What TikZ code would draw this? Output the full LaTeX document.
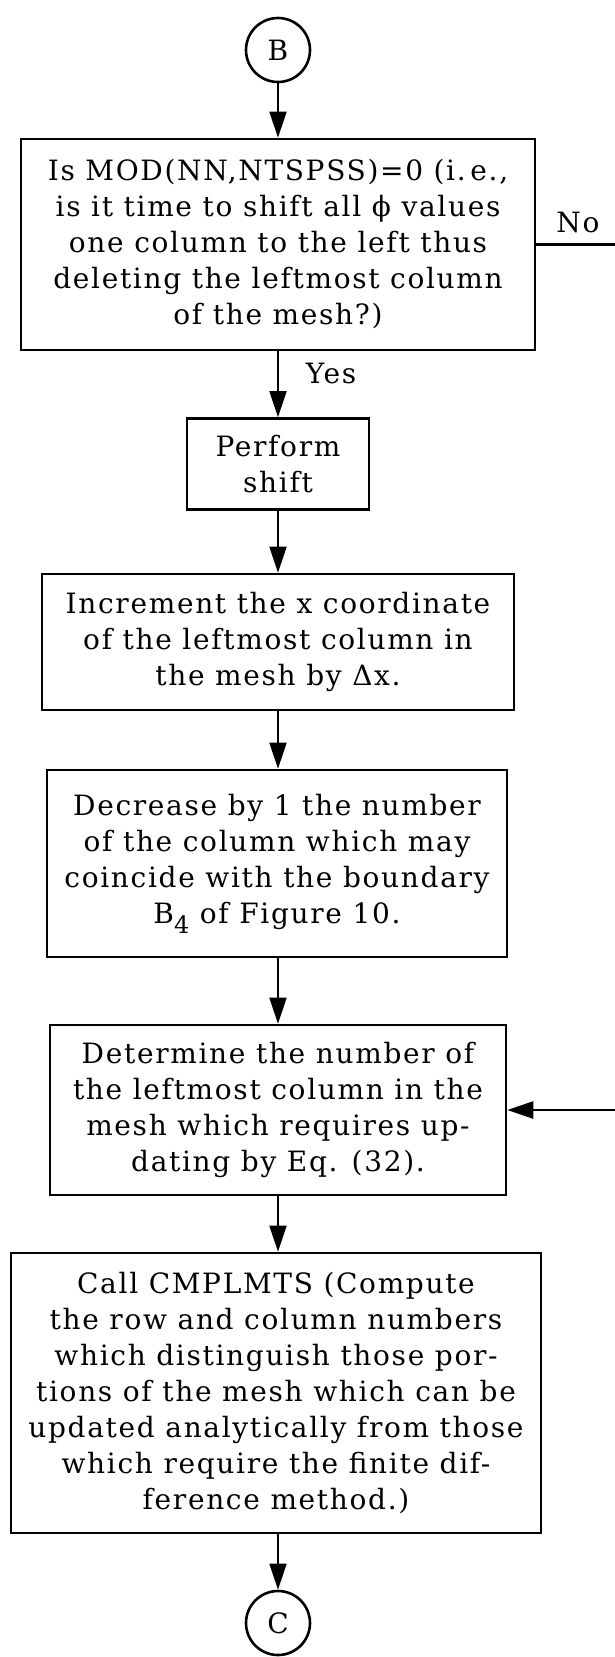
\documentclass[tikz,border=0pt]{standalone}
\usepackage{fontspec}
\setmainfont{DejaVu Serif}[LetterSpace=6.0]
\usetikzlibrary{arrows.meta}
\begin{document}
\begin{tikzpicture}[x=1pt,y=-1pt,
  txt/.style={font=\fontsize{28}{36}\selectfont},
  box/.style={draw, line width=2.6pt, inner sep=0pt, align=center, txt},
  term/.style={draw, circle, line width=2.6pt, minimum size=64pt, inner sep=0pt, txt},
  lab/.style={inner sep=0pt, txt},
  conn/.style={line width=1.8pt, -{Triangle[length=26pt,width=17pt]}},
  plain/.style={line width=2.2pt}]
\useasboundingbox[fill=white] (0,0) rectangle (615,1657);
\node[term] (B) at (278,50) {B};
\node[box, minimum width=514pt, minimum height=211pt] (q) at (278,244.5)
  {Is MOD(NN,NTSPSS)=0 (i.\,e.,\\ is it time to shift all ϕ values\\ one column to the left thus\\ deleting the leftmost column\\ of the mesh?)};
\node[box, minimum width=182pt, minimum height=91pt] (p) at (278,464) {Perform\\ shift};
\node[box, minimum width=472pt, minimum height=136pt] (inc) at (278,642)
  {Increment the x coordinate\\ of the leftmost column in\\ the mesh by Δx.};
\node[box, minimum width=460pt, minimum height=187pt] (dec) at (277,863.5)
  {Decrease by 1 the number\\ of the column which may\\ coincide with the boundary\\ B\raisebox{-10pt}{\fontsize{24}{24}\selectfont 4} of Figure 10.};
\node[box, minimum width=456pt, minimum height=170pt] (det) at (278,1110)
  {Determine the number of\\ the leftmost column in the\\ mesh which requires up-\\ dating by Eq. (32).};
\node[box, minimum width=530pt, minimum height=280pt] (call) at (276,1393)
  {Call CMPLMTS (Compute\\ the row and column numbers\\ which distinguish those por-\\ tions of the mesh which can be\\ updated analytically from those\\ which require the finite dif-\\ ference method.)};
\node[term] (C) at (278,1623) {C};
\node[lab] (yes) at (331,373) {Yes};
\node[lab] (no) at (578,222) {No};
\coordinate (noend) at (615,244.5);
\coordinate (backin) at (615,1110);
\draw[conn] (B) -- (B |- q.north);
\draw[conn] (q.south -| B) -- (B |- p.north);
\draw[conn] (p) -- (B |- inc.north);
\draw[conn] (inc.south -| B) -- (B |- dec.north);
\draw[conn] (dec.south -| B) -- (B |- det.north);
\draw[conn] (det.south -| B) -- (B |- call.north);
\draw[conn] (call.south -| B) -- (C);
\draw[plain] (q.east) -- (noend);
\draw[conn, line width=2.6pt] (backin) -- (det.east);
\end{tikzpicture}
\end{document}
